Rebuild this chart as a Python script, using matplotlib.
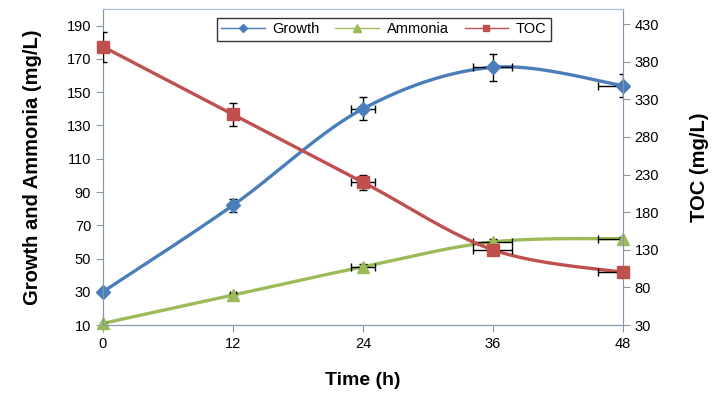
import numpy as np
import matplotlib
matplotlib.use("Agg")
from matplotlib import pyplot as plt
from matplotlib.lines import Line2D

plt.rcParams['font.family'] = ['Liberation Sans', 'DejaVu Sans']

# data
time_h = [0, 12, 24, 36, 48]
growth = [30, 82, 140, 165, 154]
growth_err = [1, 4, 7, 8, 7]
ammonia = [11, 28, 45, 60, 62]
ammonia_err = [1, 1, 2, 2, 1]
toc = [400, 310, 220, 130, 100]
toc_err = [20, 15, 10, 5, 3]
time_err = [0, 0.3, 1.1, 1.8, 2.3]

c_growth = '#4A7EBB'
c_ammonia = '#9BBB59'
c_toc = '#C0504D'
spine_c = '#8497B0'


def smooth(x, y, n=40):
    """Excel style smoothed line (cardinal bezier through the points)"""
    x = np.asarray(x, float)
    y = np.asarray(y, float)
    px = np.concatenate([[x[0]], x, [x[-1]]])
    py = np.concatenate([[y[0]], y, [y[-1]]])
    xs, ys = [], []
    t = np.linspace(0, 1, n)
    for i in range(len(x) - 1):
        p0 = np.array([px[i + 1], py[i + 1]])
        p3 = np.array([px[i + 2], py[i + 2]])
        p1 = p0 + (np.array([px[i + 2], py[i + 2]]) - np.array([px[i], py[i]])) / 6
        p2 = p3 - (np.array([px[i + 3], py[i + 3]]) - np.array([px[i + 1], py[i + 1]])) / 6
        b = ((1 - t) ** 3)[:, None] * p0 + (3 * (1 - t) ** 2 * t)[:, None] * p1 \
            + (3 * (1 - t) * t ** 2)[:, None] * p2 + (t ** 3)[:, None] * p3
        xs.append(b[:, 0])
        ys.append(b[:, 1])
    return np.concatenate(xs), np.concatenate(ys)


fig = plt.figure(figsize=(7.2, 3.94), dpi=100)
ax = fig.add_axes([0.143, 0.175, 0.722, 0.802])
ax2 = ax.twinx()

for yy, ee, col, mk, ms in [(growth, growth_err, c_growth, 'D', 7),
                            (ammonia, ammonia_err, c_ammonia, '^', 9)]:
    sx, sy = smooth(time_h, yy)
    ax.plot(sx, sy, color=col, lw=2.4, zorder=2)
    ax.errorbar(time_h, yy, yerr=ee, xerr=time_err, fmt='none', ecolor='black',
                elinewidth=1, capsize=3, zorder=3)
    ax.plot(time_h, yy, ls='none', marker=mk, ms=ms, color=col, zorder=4, clip_on=False)

sx, sy = smooth(time_h, toc)
ax2.plot(sx, sy, color=c_toc, lw=2.4, zorder=2)
ax2.errorbar(time_h, toc, yerr=toc_err, xerr=time_err, fmt='none', ecolor='black',
             elinewidth=1, capsize=3, zorder=3)
ax2.plot(time_h, toc, ls='none', marker='s', ms=9, color=c_toc, zorder=4, clip_on=False)

ax.set_xlim(0, 48)
ax.set_xticks([0, 12, 24, 36, 48])
ax.set_ylim(10, 200)
ax.set_yticks(np.arange(10, 200, 20))
ax2.set_ylim(30, 450)
ax2.set_yticks(np.arange(30, 450, 50))

for a in (ax, ax2):
    for s in a.spines.values():
        s.set_color(spine_c)
    a.spines['top'].set_color('#A9BCD9')
    a.tick_params(colors=spine_c, labelcolor='black', labelsize=10.5, length=5, direction='out')

ax.set_xlabel('Time (h)', fontsize=14, fontweight='bold', labelpad=15)
ax.set_ylabel('Growth and Ammonia (mg/L)', fontsize=14.5, fontweight='bold', labelpad=18)
ax2.set_ylabel('TOC (mg/L)', fontsize=14.5, fontweight='bold', labelpad=22)

handles = [Line2D([], [], color=c_growth, lw=1, marker='D', ms=4),
           Line2D([], [], color=c_ammonia, lw=1, marker='^', ms=6),
           Line2D([], [], color=c_toc, lw=1, marker='s', ms=5)]
leg = ax2.legend(handles, ['Growth', 'Ammonia', 'TOC'], loc='upper center',
                 bbox_to_anchor=(0.54, 0.995), ncol=3, fontsize=10.5, frameon=True,
                 fancybox=False, edgecolor='black', handlelength=3.0, columnspacing=1.1,
                 handletextpad=0.5, borderpad=0.3)
leg.get_frame().set_linewidth(1)

fig.savefig('out.png', dpi=100)
